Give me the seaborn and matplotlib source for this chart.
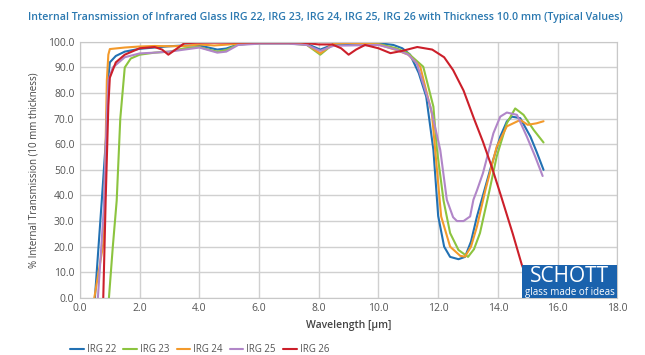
import pandas as pd
import numpy as np
import matplotlib
matplotlib.use("Agg")
import matplotlib.pyplot as plt
import seaborn as sns
from matplotlib.patches import Rectangle

# Values (wavelength in um, transmission in %)
irg22_x = [0.5, 0.73, 0.87, 0.95, 1.0, 1.2, 1.5, 2.0, 2.5, 3.0, 3.5, 4.0, 4.3, 4.6, 4.9, 5.3, 6.0,
           7.0, 7.6, 8.05, 8.5, 9.0, 10.0, 10.5, 10.8, 11.06, 11.35, 11.6, 11.84, 12.0, 12.2, 12.4,
           12.68, 12.9, 13.1, 13.3, 13.5, 13.74, 14.08, 14.3, 14.47, 14.75, 15.09, 15.3, 15.53]
irg22_y = [0, 38, 62, 86, 92, 94.5, 96.2, 97.3, 97.8, 98.3, 98.6, 98.6, 97.8, 97.0, 97.4, 99.0, 99.5,
           99.5, 99.2, 97.0, 99.0, 99.2, 99.5, 98.8, 97.5, 95.0, 87.8, 78.6, 57.8, 32.0, 20.0, 16.0,
           15.1, 16.0, 22.0, 31.8, 40.0, 50.0, 63.0, 68.9, 70.8, 70.2, 63.0, 57.0, 50.0]

irg23_x = [0.97, 1.1, 1.23, 1.35, 1.5, 1.7, 2.0, 2.5, 3.0, 3.5, 4.0, 4.3, 4.6, 4.9, 5.3, 6.0,
           7.0, 7.6, 8.05, 8.5, 9.0, 10.0, 10.6, 11.0, 11.5, 11.84, 11.96, 12.18, 12.4, 12.68, 13.0,
           13.2, 13.4, 13.72, 13.96, 14.3, 14.58, 14.86, 15.2, 15.53]
irg23_y = [0, 20, 38, 70, 90, 93.5, 95.0, 95.8, 96.2, 97.5, 98.0, 97.0, 96.2, 96.8, 99.0, 99.4,
           99.4, 98.8, 95.0, 99.3, 99.6, 99.2, 97.5, 95.5, 90.3, 74.7, 57.8, 38.0, 25.3, 18.7, 16.0,
           19.0, 25.3, 42.0, 55.2, 68.2, 74.0, 71.5, 65.6, 60.7]

irg24_x = [0.48, 0.78, 0.85, 0.9, 0.95, 1.0, 1.5, 2.0, 2.5, 3.0, 3.5, 4.0, 4.5, 5.0, 5.5, 6.0,
           7.0, 7.6, 8.05, 8.5, 9.0, 10.0, 10.6, 11.0, 11.4, 11.79, 11.9, 12.1, 12.4, 12.74, 12.9,
           13.1, 13.3, 13.58, 13.96, 14.3, 14.75, 15.0, 15.3, 15.53]
irg24_y = [0, 21, 55, 85, 95, 97.2, 97.8, 98.2, 98.4, 98.3, 98.4, 99.0, 98.6, 99.0, 99.5, 99.6,
           99.6, 99.0, 95.5, 99.4, 99.6, 99.0, 96.8, 95.0, 90.3, 72.0, 57.8, 31.8, 20.0, 16.4, 16.1,
           20.0, 27.9, 42.0, 59.0, 67.0, 69.5, 67.6, 68.2, 69.0]

irg25_x = [0.6, 0.8, 0.9, 0.95, 1.1, 1.5, 2.0, 2.5, 3.0, 3.5, 4.0, 4.3, 4.6, 4.9, 5.3, 6.0,
           7.0, 7.6, 8.05, 8.5, 9.0, 10.0, 10.6, 11.0, 11.28, 11.74, 12.07, 12.29, 12.5, 12.63, 12.85,
           13.07, 13.18, 13.3, 13.5, 13.85, 14.08, 14.3, 14.64, 14.97, 15.25, 15.5]
irg25_y = [0, 35, 72, 85, 90, 94.0, 95.5, 95.8, 96.2, 97.0, 97.8, 96.8, 95.8, 96.2, 98.8, 99.3,
           99.3, 98.8, 96.5, 98.5, 98.6, 98.8, 97.0, 95.0, 91.7, 74.7, 57.8, 38.3, 31.5, 30.0, 30.0,
           31.8, 38.3, 42.0, 48.7, 64.3, 70.8, 72.4, 71.5, 63.0, 55.2, 47.6]

irg26_x = [0.78, 0.86, 0.95, 1.0, 1.2, 1.5, 2.0, 2.5, 2.75, 2.96, 3.2, 3.5, 4.0, 5.0, 6.0, 7.0,
           7.4, 8.0, 8.45, 8.75, 9.0, 9.25, 9.55, 10.0, 10.4, 10.8, 11.3, 11.8, 12.2, 12.5, 12.85,
           13.2, 13.5, 13.8, 14.1, 14.5, 14.8, 15.1, 15.3]
irg26_y = [0, 38, 75, 86, 92, 95.0, 97.5, 98.0, 97.0, 95.0, 97.0, 99.5, 99.7, 99.7, 99.8, 99.8,
           99.8, 99.0, 99.0, 97.5, 95.0, 97.0, 98.8, 97.5, 95.6, 96.5, 98.0, 97.0, 94.0, 89.0, 81.0,
           70.0, 61.0, 51.0, 40.0, 25.0, 13.0, 4.0, 1.0]

names = ["IRG 22", "IRG 23", "IRG 24", "IRG 25", "IRG 26"]
colors = ["#2271b3", "#8cc43f", "#f39a2b", "#b186c8", "#cc1f2a"]

frames = []
for name, xs, ys in zip(names,
                        [irg22_x, irg23_x, irg24_x, irg25_x, irg26_x],
                        [irg22_y, irg23_y, irg24_y, irg25_y, irg26_y]):
    frames.append(pd.DataFrame({"wl": xs, "t": ys, "glass": name}))
df = pd.concat(frames, ignore_index=True)

sns.set_style("white")
plt.rcParams["font.family"] = ["Open Sans", "DejaVu Sans"]

fig = plt.figure(figsize=(6.45, 3.55), dpi=100)
ax = fig.add_axes([0.124, 0.161, 0.833, 0.721])

sns.lineplot(data=df, x="wl", y="t", hue="glass", palette=dict(zip(names, colors)),
             sort=False, estimator=None, linewidth=1.5, ax=ax, legend=False)

ax.set_xlim(0, 18)
ax.set_ylim(0, 100)
ax.set_xticks(np.arange(0, 19, 2))
ax.set_yticks(np.arange(0, 101, 10))
ax.set_xticklabels([f"{v:.1f}" for v in np.arange(0, 19, 2)])
ax.set_yticklabels([f"{v:.1f}" for v in np.arange(0, 101, 10)])
ax.tick_params(labelsize=7.5, colors="#555555", length=0, pad=4)
ax.grid(True, color="#d0d0d0", linewidth=1.0)
for s in ax.spines.values():
    s.set_color("#c8c8c8")
ax.set_axisbelow(True)
ax.set_xlabel("Wavelength [µm]", fontsize=7.5, color="#444444", fontweight="semibold", labelpad=4)
ax.set_ylabel("% Internal Transmission (10 mm thickness)", fontsize=7, color="#444444", labelpad=6)

fig.text(0.043, 0.945, "Internal Transmission of Infrared Glass IRG 22, IRG 23, IRG 24, IRG 25, IRG 26 "
         "with Thickness 10.0 mm (Typical Values)", fontsize=7.7, color="#2a78b0",
         fontweight="semibold")

# SCHOTT logo box in lower right corner
ax.add_patch(Rectangle((14.8, 0), 3.2, 12.9, facecolor="#1a62ad", edgecolor="none", zorder=5))
ax.text(16.4, 8.2, "SCHOTT", color="white", fontsize=15, ha="center", va="center", zorder=6)
ax.text(16.4, 2.2, "glass made of ideas", color="white", fontsize=7, ha="center", va="center", zorder=6)

handles = [plt.Line2D([], [], color=c, linewidth=1.5) for c in colors]
fig.legend(handles, names, loc="lower left", bbox_to_anchor=(0.095, -0.025), ncol=5, frameon=False,
           fontsize=7, handlelength=1.4, handletextpad=0.3, columnspacing=0.75, labelcolor="#555555")

fig.savefig("out.png", dpi=100)
